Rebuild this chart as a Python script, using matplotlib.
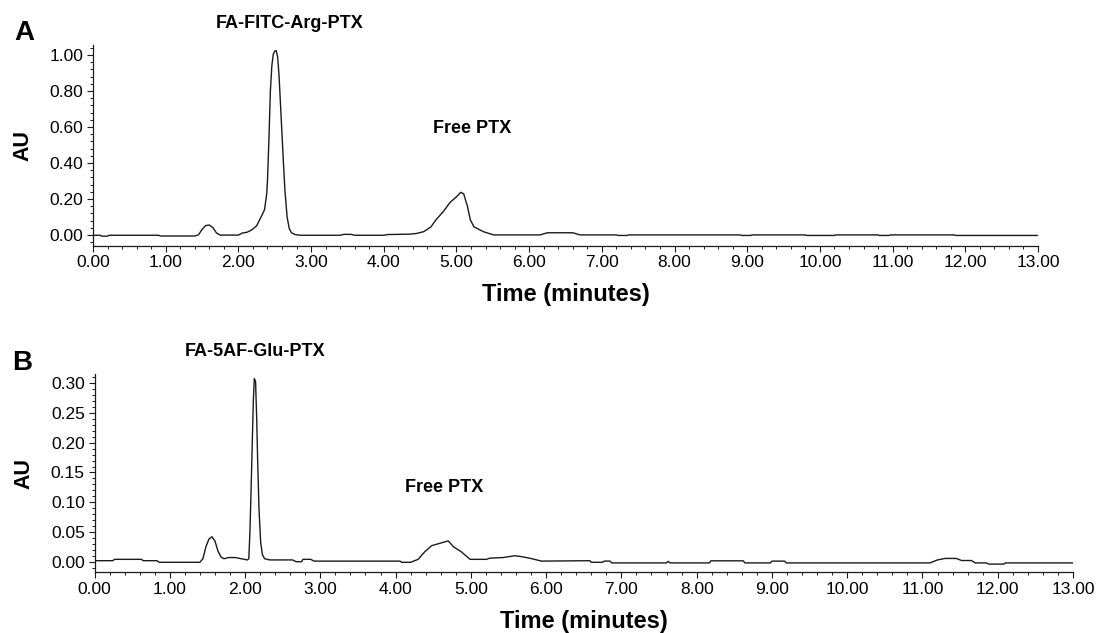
import matplotlib
matplotlib.use("Agg")
import matplotlib.pyplot as plt
from matplotlib.ticker import AutoMinorLocator


# Chromatogram A: FA-FITC-Arg-PTX (time in minutes, absorbance in AU).
TIME_A = [
    0.00, 0.10, 0.12, 0.20, 0.22, 0.90, 0.93, 1.40, 1.45, 1.50, 1.55, 1.60, 1.65,
    1.70, 1.75, 2.00, 2.05, 2.12, 2.18, 2.25, 2.30, 2.36, 2.39, 2.40, 2.42, 2.44,
    2.46, 2.48, 2.50, 2.52, 2.54, 2.56, 2.58, 2.60, 2.62, 2.64, 2.67, 2.70, 2.73,
    2.78, 2.85, 3.40, 3.45, 3.55, 3.60, 4.00, 4.05, 4.35, 4.45, 4.55, 4.65, 4.72,
    4.82, 4.91, 5.00, 5.06, 5.10, 5.15, 5.19, 5.24, 5.37, 5.51, 6.15, 6.25, 6.60,
    6.70, 7.20, 7.22, 7.35, 7.37, 8.90, 8.92, 9.05, 9.07, 9.80, 9.82, 10.20,
    10.22, 10.80, 10.82, 10.95, 10.97, 11.85, 11.87, 13.00,
]
AU_A = [
    -0.002, -0.002, -0.007, -0.007, -0.002, -0.002, -0.006, -0.006, 0.000, 0.030,
    0.052, 0.055, 0.040, 0.010, -0.001, -0.001, 0.010, 0.015, 0.027, 0.050, 0.090,
    0.140, 0.230, 0.300, 0.530, 0.800, 0.940, 1.005, 1.022, 1.025, 0.990, 0.880,
    0.720, 0.560, 0.400, 0.250, 0.100, 0.035, 0.012, 0.002, -0.002, -0.002, 0.003,
    0.003, -0.002, -0.002, 0.002, 0.004, 0.008, 0.018, 0.045, 0.085, 0.130, 0.180,
    0.212, 0.237, 0.228, 0.160, 0.085, 0.045, 0.018, 0.000, 0.000, 0.012, 0.012,
    0.000, 0.000, -0.003, -0.003, 0.000, 0.000, -0.003, -0.003, 0.000, 0.000,
    -0.003, -0.003, 0.000, 0.000, -0.003, -0.003, 0.000, 0.000, -0.003, -0.003,
]

# Chromatogram B: FA-5AF-Glu-PTX.
TIME_B = [
    0.00, 0.24, 0.27, 0.62, 0.65, 0.83, 0.86, 1.40, 1.44, 1.48, 1.52, 1.56, 1.60,
    1.64, 1.68, 1.72, 1.78, 1.87, 1.95, 2.03, 2.05, 2.065, 2.08, 2.096, 2.11,
    2.123, 2.14, 2.155, 2.167, 2.185, 2.207, 2.23, 2.26, 2.33, 2.63, 2.68, 2.75,
    2.77, 2.87, 2.92, 4.06, 4.08, 4.20, 4.30, 4.39, 4.48, 4.59, 4.70, 4.77, 4.87,
    4.99, 5.21, 5.25, 5.43, 5.58, 5.65, 5.78, 5.94, 6.58, 6.60, 6.75, 6.77, 6.85,
    6.87, 7.60, 7.62, 7.65, 8.17, 8.19, 8.62, 8.64, 8.98, 9.00, 9.17, 9.19, 11.10,
    11.20, 11.30, 11.45, 11.52, 11.65, 11.70, 11.85, 11.88, 12.08, 12.10, 13.00,
]
AU_B = [
    0.0017, 0.0017, 0.004, 0.004, 0.0017, 0.0017, -0.001, -0.001, 0.005, 0.025,
    0.038, 0.042, 0.035, 0.018, 0.008, 0.005, 0.007, 0.007, 0.005, 0.003, 0.005,
    0.050, 0.120, 0.200, 0.270, 0.308, 0.303, 0.240, 0.174, 0.090, 0.034, 0.012,
    0.005, 0.003, 0.003, 0.000, 0.000, 0.004, 0.004, 0.001, 0.001, -0.001, -0.001,
    0.004, 0.017, 0.027, 0.031, 0.035, 0.025, 0.017, 0.004, 0.004, 0.006, 0.007,
    0.010, 0.009, 0.006, 0.001, 0.0017, -0.001, -0.001, 0.001, 0.001, -0.002,
    -0.002, 0.0005, -0.002, -0.002, 0.0015, 0.0015, -0.002, -0.002, 0.001, 0.001,
    -0.002, -0.002, 0.003, 0.0055, 0.0055, 0.002, 0.002, -0.002, -0.002, -0.004,
    -0.004, -0.002, -0.002,
]

# Tick positions for both panels.
X_TICKS = list(range(0, 14))
Y_TICKS_A = [0.0, 0.2, 0.4, 0.6, 0.8, 1.0]
Y_TICKS_B = [0.0, 0.05, 0.10, 0.15, 0.20, 0.25, 0.30]

W, H = 1098, 633
FONT = ["Liberation Sans", "DejaVu Sans"]
LINE_COLOR = "#1a1a1a"


def px(x, y):
    """Convert reference pixel coords (from top left) to figure fraction."""
    return x / W, 1 - y / H


def style_axes(ax, y_ticks, xlim, ylim):
    """Common chromatogram axes styling."""
    ax.set_xlim(*xlim)
    ax.set_ylim(*ylim)
    ax.spines["top"].set_visible(False)
    ax.spines["right"].set_visible(False)
    for side in ("left", "bottom"):
        ax.spines[side].set_linewidth(0.9)
        ax.spines[side].set_color(LINE_COLOR)

    ax.set_xticks(X_TICKS)
    ax.set_xticklabels([f"{t:.2f}" for t in X_TICKS])
    ax.xaxis.set_minor_locator(AutoMinorLocator(5))
    ax.set_yticks(y_ticks)
    ax.set_yticklabels([f"{v:.2f}" for v in y_ticks])
    ax.yaxis.set_minor_locator(AutoMinorLocator(5))

    ax.tick_params(which="major", direction="out", length=4, width=0.8,
                   color=LINE_COLOR, labelsize=12.5, pad=3)
    ax.tick_params(which="minor", direction="out", length=2, width=0.7,
                   color=LINE_COLOR)
    for lab in ax.get_xticklabels() + ax.get_yticklabels():
        lab.set_family(FONT)

    ax.set_xlabel("Time (minutes)", fontsize=17, fontweight="bold",
                  family=FONT, labelpad=9)
    ax.set_ylabel("AU", fontsize=15.5, fontweight="bold", family=FONT)


def main():
    fig = plt.figure(figsize=(W / 100, H / 100), dpi=100)

    # Panel A axes (left/bottom/width/height from the reference pixels).
    ax_a = fig.add_axes([93 / W, 1 - 245.7 / H, (1038 - 93) / W, (245.7 - 45) / H])
    ax_a.plot(TIME_A, AU_A, color=LINE_COLOR, linewidth=1.0)
    style_axes(ax_a, Y_TICKS_A, (0, 13), (-0.06, 1.056))
    ax_a.yaxis.set_label_coords(-0.0634, 0.5)

    # Panel B axes.
    ax_b = fig.add_axes([94.5 / W, 1 - 572.3 / H, (1073 - 94.5) / W, (572.3 - 374) / H])
    ax_b.plot(TIME_B, AU_B, color=LINE_COLOR, linewidth=1.0)
    style_axes(ax_b, Y_TICKS_B, (0, 13), (-0.0178, 0.3156))
    ax_b.yaxis.set_label_coords(-0.0618, 0.5)

    # Panel letters and peak annotations.
    fig.text(*px(24, 33), "A", fontsize=20, fontweight="bold", family=FONT,
             ha="center", va="center")
    fig.text(*px(22, 362.5), "B", fontsize=20, fontweight="bold", family=FONT,
             ha="center", va="center")
    fig.text(*px(290, 23), "FA-FITC-Arg-PTX", fontsize=13, fontweight="bold",
             family=FONT, ha="center", va="center")
    fig.text(*px(472, 128.5), "Free PTX", fontsize=13, fontweight="bold",
             family=FONT, ha="center", va="center")
    fig.text(*px(255.5, 351.5), "FA-5AF-Glu-PTX", fontsize=13, fontweight="bold",
             family=FONT, ha="center", va="center")
    fig.text(*px(444, 487.5), "Free PTX", fontsize=13, fontweight="bold",
             family=FONT, ha="center", va="center")

    fig.savefig("out.png", dpi=100)


if __name__ == "__main__":
    main()
